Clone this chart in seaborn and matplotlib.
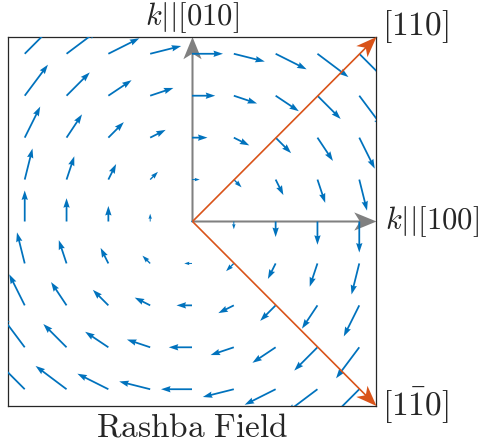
import numpy as np
import matplotlib
matplotlib.use("Agg")
import matplotlib.pyplot as plt
import seaborn as sns

# Sampling grid in k-space (both directions)
k_values = [-4, -3, -2, -1, 0, 1, 2, 3, 4]
# Horizontal field component, one value per row (row k_y = -4 ... 4)
field_x_by_row = [-4, -3, -2, -1, 0, 1, 2, 3, 4]
# Vertical field component, one value per column (column k_x = -4 ... 4)
field_y_by_col = [4, 3, 2, 1, 0, -1, -2, -3, -4]

# Crystal directions drawn from the origin
axis_dirs = {"k_100": (1, 0), "k_010": (0, 1)}
diag_dirs = {"110": (1, 1), "1-10": (1, -1)}
half_range = 4.4

sns.set_theme(style="white")
plt.rcParams["mathtext.fontset"] = "cm"
plt.rcParams["font.family"] = ["DejaVu Serif"]

blue = "#0072BD"
orange = "#D95319"
gray = "#808080"

KX, KY = np.meshgrid(k_values, k_values)
U = np.array(field_x_by_row, dtype=float)[:, None] + np.zeros_like(KX, dtype=float)
V = np.array(field_y_by_col, dtype=float)[None, :] + np.zeros_like(KY, dtype=float)

fig = plt.figure(figsize=(4.84, 4.48), dpi=100)
ax = fig.add_axes([8 / 484, 42 / 448, 368 / 484, 369 / 448])

# Principal k axes
for d in axis_dirs.values():
    ax.quiver([0], [0], [d[0] * half_range], [d[1] * half_range],
              angles="xy", scale_units="xy", scale=1, color=gray,
              width=0.0055, headwidth=9, headlength=11, headaxislength=8.5,
              clip_on=False, zorder=2)

# Rashba spin-orbit field
ax.quiver(KX, KY, U, V, angles="xy", scale_units="xy", scale=5.4,
          color=blue, width=0.0048, headwidth=3.6, headlength=5.4,
          headaxislength=4.9, minshaft=1.5, zorder=3)

# Diagonal directions
for d in diag_dirs.values():
    ax.quiver([0], [0], [d[0] * half_range], [d[1] * half_range],
              angles="xy", scale_units="xy", scale=1, color=orange,
              width=0.0045, headwidth=9.5, headlength=12.5, headaxislength=9.5,
              clip_on=False, zorder=4)

ax.set_xlim(-half_range, half_range)
ax.set_ylim(-half_range, half_range)
ax.set_xticks([])
ax.set_yticks([])
for s in ax.spines.values():
    s.set_color("#262626")
    s.set_linewidth(0.9)
    s.set_visible(True)

fs = 24
fs_k = 22
ax.text(0, 4.86, r"$k||[010]$", ha="center", va="center", fontsize=fs_k)
ax.text(half_range + 0.22, 0, r"$k||[100]$", ha="left", va="center", fontsize=fs_k)
ax.text(half_range + 0.15, 4.65, r"$[110]$", ha="left", va="center", fontsize=fs)
ax.text(half_range + 0.15, -4.4, r"$[1\bar{1}0]$", ha="left", va="center", fontsize=fs)
ax.set_xlabel(r"$\mathrm{Rashba\ Field}$", fontsize=fs, labelpad=4)

fig.savefig("out.png", dpi=100)
